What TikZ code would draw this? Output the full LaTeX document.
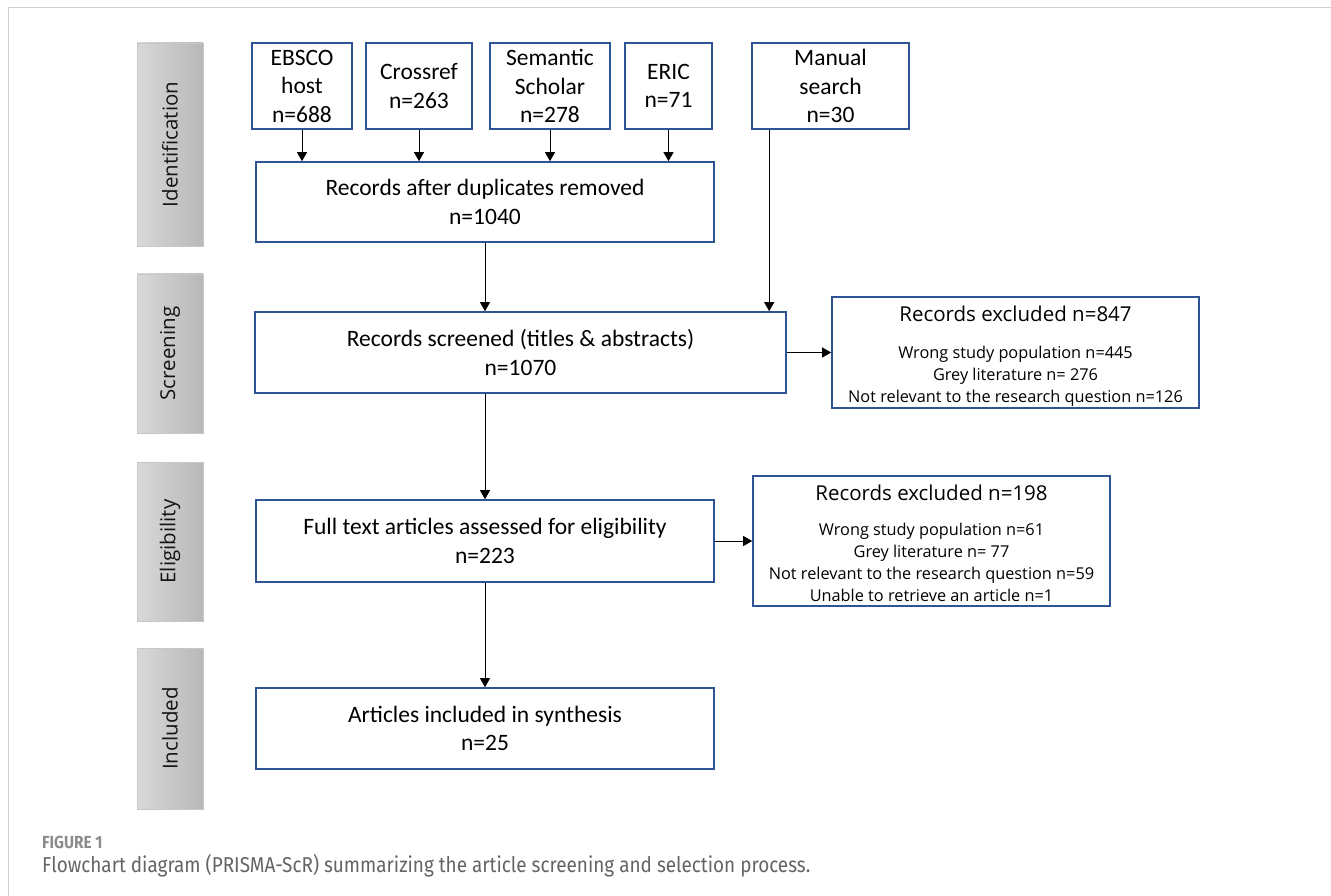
\documentclass[tikz,border=0pt]{standalone}
\usepackage{fontspec}
\setmainfont{Carlito}
\newfontfamily\stagefont{Open Sans}
\newfontfamily\capfont[FakeStretch=0.88]{Fira Sans}
\usetikzlibrary{arrows.meta}
\definecolor{boxblue}{RGB}{47,84,150}
\definecolor{capgray}{RGB}{100,100,100}
\newcommand{\boxfont}{\fontsize{23.5}{28.5}\selectfont}
\newcommand{\exhead}{\stagefont\fontsize{20.5}{24}\selectfont}
\newcommand{\exbody}{\stagefont\fontsize{16.3}{22}\selectfont}

\begin{document}
\begin{tikzpicture}[x=1pt, y=-1pt,
    stage/.style={draw=black!22, line width=0.8pt, left color=black!15, right color=black!28,
        minimum width=66pt, inner sep=0pt},
    stagelabel/.style={rotate=90, inner sep=0pt, text=black!92,
        font=\stagefont\fontsize{20.5}{24}\selectfont},
    flowbox/.style={draw=boxblue, line width=1.6pt, align=center, font=\boxfont, inner sep=0pt},
    exclbox/.style={flowbox, font=\exbody},
    arrow/.style={-{Triangle[length=9pt, width=10pt]}, line width=0.9pt}
]
\useasboundingbox (0,0) rectangle (1331,896);

% page frame
\draw[black!18, line width=1.5pt] (8.5,896) -- (8.5,7.5) -- (1331,7.5);

% stage bars on the left
\foreach \i/\y/\h in {Identification/144.5/203, Screening/353.5/159,
                      Eligibility/541.5/159, Included/728.5/161}{
    \node[stage, minimum height=\h pt] (bar\i) at (170,\y) {};
    \node[stagelabel] (label\i) at (bar\i) {\i};
}

% sources
\node[flowbox, minimum width=100pt, minimum height=86pt] (ebsco) at (302,86) {EBSCO\\host\\n=688};
\node[flowbox, minimum width=106pt, minimum height=86pt] (crossref) at (419,86) {Crossref\\n=263};
\node[flowbox, minimum width=120pt, minimum height=86pt] (semantic) at (550,86) {Semantic\\Scholar\\n=278};
\node[flowbox, minimum width=87pt, minimum height=86pt] (eric) at (668.5,86) {ERIC\\n=71};
\node[flowbox, minimum width=157pt, minimum height=86pt] (manual) at (830.5,86) {Manual\\search\\n=30};

% main column
\node[flowbox, minimum width=458pt, minimum height=80pt] (records) at (485,202) {Records after duplicates removed\\n=1040};
\node[flowbox, minimum width=531pt, minimum height=81pt] (screened) at (520.5,352.5) {Records screened (titles \& abstracts)\\n=1070};
\node[flowbox, minimum width=458pt, minimum height=82pt] (fulltext) at (485,541) {Full text articles assessed for eligibility\\n=223};
\node[flowbox, minimum width=458pt, minimum height=81pt] (included) at (485,728.5) {Articles included in synthesis\\n=25};

% exclusions
\node[exclbox, minimum width=367pt, minimum height=111pt] (excl847) at (1015.5,352.5)
    {\rule{0pt}{22pt}{\exhead Records excluded n=847}\\[15pt]Wrong study population n=445\\Grey literature n= 276\\Not relevant to the research question n=126};
\node[exclbox, minimum width=357pt, minimum height=130pt] (excl198) at (931.5,541)
    {\rule{0pt}{21pt}{\exhead Records excluded n=198}\\[13pt]Wrong study population n=61\\Grey literature n= 77\\Not relevant to the research question n=59\\Unable to retrieve an article n=1};

% connectors
\foreach \s in {ebsco,crossref,semantic,eric}
    \draw[arrow] (\s.south) -- (\s.south |- records.north);
\draw[arrow] ([xshift=18pt]manual.south west) -- ([xshift=18pt]manual.south west |- screened.north);
\draw[arrow] (records.south) -- (records.south |- screened.north);
\draw[arrow] (records.south |- screened.south) -- (fulltext.north);
\draw[arrow] (fulltext.south) -- (included.north);
\draw[arrow] (screened.east) -- (excl847.west);
\draw[arrow] (fulltext.east) -- (excl198.west);

% caption
\node[anchor=west, inner sep=0pt, text=black!45, font=\capfont\bfseries\fontsize{17.5}{19}\selectfont] (figlabel) at (42,842) {FIGURE 1};
\node[anchor=west, inner sep=0pt, text=capgray, font=\capfont\fontsize{21.5}{24}\selectfont] (figcaption) at (42,866)
    {Flowchart diagram (PRISMA-ScR) summarizing the article screening and selection process.};
\end{tikzpicture}
\end{document}
